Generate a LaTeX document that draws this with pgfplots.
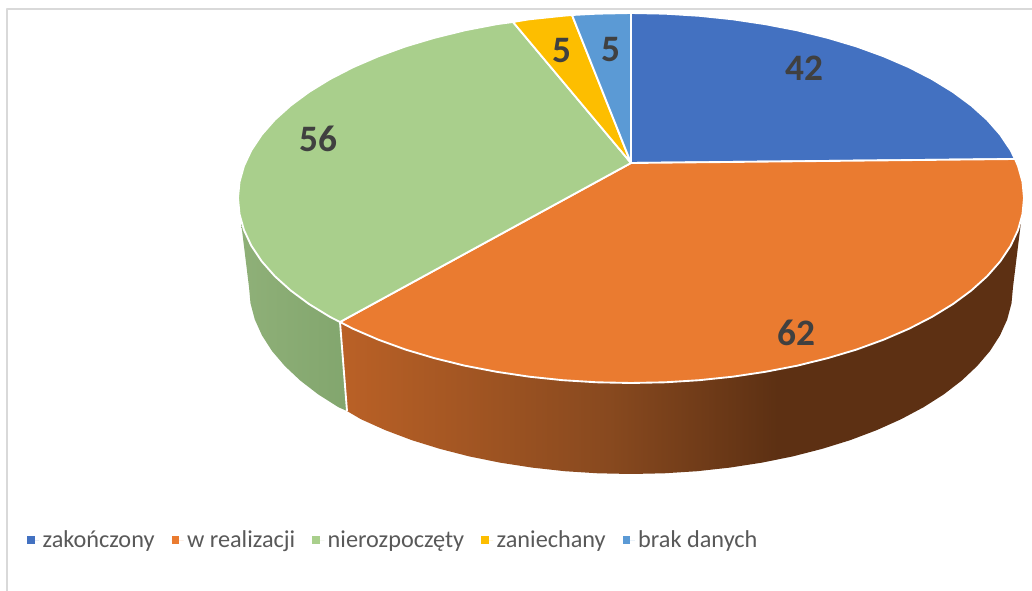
\documentclass[border=0pt]{standalone}
\usepackage{fontspec}
\setmainfont{Carlito}
\usepackage{pgfplots}
\pgfplotsset{compat=1.18}

\definecolor{cBlue}{HTML}{4371C1}
\definecolor{cOrange}{HTML}{EA7B30}
\definecolor{cGreen}{HTML}{A9CF8C}
\definecolor{cYellow}{HTML}{FDBE00}
\definecolor{cSky}{HTML}{5B9AD5}
\definecolor{cFrame}{HTML}{D9D9D9}
\definecolor{cLabel}{HTML}{404040}
\definecolor{cLegend}{HTML}{595959}

% side walls: 25bp..75bp of the shading is the bounding box of the path
\pgfdeclarehorizontalshading{orangeside}{100bp}{
  rgb(0bp)=(0.73,0.38,0.15); rgb(25bp)=(0.73,0.38,0.15);
  rgb(45bp)=(0.53,0.285,0.12); rgb(57bp)=(0.365,0.19,0.075);
  rgb(100bp)=(0.365,0.19,0.075)}
\pgfdeclarehorizontalshading{greenside}{100bp}{
  rgb(0bp)=(0.56,0.69,0.47); rgb(25bp)=(0.56,0.69,0.47);
  rgb(75bp)=(0.51,0.65,0.43); rgb(100bp)=(0.51,0.65,0.43)}

\begin{document}
\begin{tikzpicture}
\begin{axis}[
    width=774pt, height=443.25pt,
    scale only axis,
    axis lines=none,
    xmin=0, xmax=1032,
    ymin=0, ymax=591,
    y dir=reverse,
    clip=false,
    legend image code/.code={\fill[#1,draw=none] (0pt,-2.7pt) rectangle (5.6pt,2.9pt);
        \path[draw=none] (0pt,0pt) -- (8.9pt,0pt);},
    legend columns=5,
    legend style={
        at={(axis cs:27,540)}, anchor=west,
        draw=none, fill=none, inner xsep=0pt, inner ysep=0pt,
        font=\fontsize{18.2}{20}\selectfont,
        text=cLegend,
        nodes={inner xsep=2.6pt, inner ysep=0pt},
        /tikz/every even column/.append style={column sep=10.25pt},
    },
    every axis plot/.append style={line join=round},
]

% page and frame
\addplot[draw=none, fill=white, forget plot] coordinates {(0,0)(1032,0)(1032,591)(0,591)} --cycle;
\addplot[cFrame, line width=1.5pt, forget plot] coordinates {(7,591)(7,9)(1032,9)};

% green side wall
\addplot[draw=none, shading=greenside, forget plot] coordinates {
 (340,322)(330,316.9)(309.1,304.1)(290.7,290.5)(274.8,276.2)(261.7,261.3)(251.4,245.9)(244,230.1)(241,222)
 (249,287)(250.5,303.3)(254.8,319.5)(262,335.4)(272,351)(284.8,366)(300.2,380.5)(318.1,394.3)(338.4,407.2)(347,411)
} --cycle;

% orange side wall
\addplot[draw=none, shading=orangeside, forget plot] coordinates {
 (1021,222)(1018,230.1)(1010.6,245.9)(1000.3,261.3)(987.2,276.2)(971.3,290.5)(952.9,304.1)(932,316.9)(908.9,328.8)
 (883.6,339.7)(856.4,349.6)(827.5,358.2)(797.1,365.7)(765.4,371.8)(732.7,376.7)(699.2,380.2)(665.3,382.3)(631,383)
 (596.7,382.3)(562.8,380.2)(529.3,376.7)(496.6,371.8)(464.9,365.7)(434.5,358.2)(405.6,349.6)(378.4,339.7)(353.1,328.8)(340,322)
 (347,411)(360.9,419.2)(385.4,430.2)(411.9,440.2)(440,448.9)(469.6,456.5)(500.4,462.7)(532.1,467.6)(564.7,471.2)(597.7,473.3)
 (631,474)(664.3,473.3)(697.3,471.2)(729.9,467.6)(761.6,462.7)(792.4,456.5)(822,448.9)(850.1,440.2)(876.6,430.2)(901.1,419.2)
 (923.6,407.2)(943.9,394.3)(961.8,380.5)(977.2,366)(990,351)(1000,335.4)(1007.2,319.5)(1011.5,303.3)(1013,287)
} --cycle;
\addplot[white, line width=1.4pt, forget plot] coordinates {(340,322)(347,411)};

% top faces, one per category
\addplot[draw=white, line width=1.4pt, fill=cBlue] coordinates {
 (631,163)(631,13)(665.3,13.7)(699.2,15.8)(732.7,19.3)(765.4,24.2)(797.1,30.3)(827.5,37.8)(856.4,46.4)(883.6,56.3)(908.9,67.2)
 (932,79.1)(952.9,91.9)(971.3,105.5)(987.2,119.8)(1000.3,134.7)(1010.6,150.1)(1015,159)
} --cycle;
\addlegendentry{zakończony}
\addplot[draw=white, line width=1.4pt, fill=cOrange] coordinates {
 (631,163)(1015,159)(1018,165.9)(1022.5,181.9)(1024,198)(1022.5,214.1)(1018,230.1)(1010.6,245.9)(1000.3,261.3)(987.2,276.2)
 (971.3,290.5)(952.9,304.1)(932,316.9)(908.9,328.8)(883.6,339.7)(856.4,349.6)(827.5,358.2)(797.1,365.7)(765.4,371.8)(732.7,376.7)
 (699.2,380.2)(665.3,382.3)(631,383)(596.7,382.3)(562.8,380.2)(529.3,376.7)(496.6,371.8)(464.9,365.7)(434.5,358.2)(405.6,349.6)
 (378.4,339.7)(353.1,328.8)(340,322)
} --cycle;
\addlegendentry{w realizacji}
\addplot[draw=white, line width=1.4pt, fill=cGreen] coordinates {
 (631,163)(340,322)(330,316.9)(309.1,304.1)(290.7,290.5)(274.8,276.2)(261.7,261.3)(251.4,245.9)(244,230.1)(239.5,214.1)(238,198)
 (239.5,181.9)(244,165.9)(251.4,150.1)(261.7,134.7)(274.8,119.8)(290.7,105.5)(309.1,91.9)(330,79.1)(353.1,67.2)(378.4,56.3)
 (405.6,46.4)(434.5,37.8)(464.9,30.3)(496.6,24.2)(513,22)
} --cycle;
\addlegendentry{nierozpoczęty}
\addplot[draw=white, line width=1.4pt, fill=cYellow] coordinates {
 (631,163)(513,22)(529.3,19.3)(562.8,15.8)(572,15)
} --cycle;
\addlegendentry{zaniechany}
\addplot[draw=white, line width=1.4pt, fill=cSky] coordinates {
 (631,163)(572,15)(596.7,13.7)(631,13)
} --cycle;
\addlegendentry{brak danych}

% data labels
\begin{scope}[every node/.style={font=\fontsize{28}{30}\selectfont\bfseries, text=cLabel, inner sep=0pt}]
\node at (axis cs:804,68.5) {42};
\node at (axis cs:796,332.5) {62};
\node at (axis cs:318,138.5) {56};
\node at (axis cs:562,50.5) {5};
\node at (axis cs:611,49.5) {5};
\end{scope}

\end{axis}
\pgfresetboundingbox
\path (0,0) rectangle (774pt,443.25pt);
\end{tikzpicture}
\end{document}
